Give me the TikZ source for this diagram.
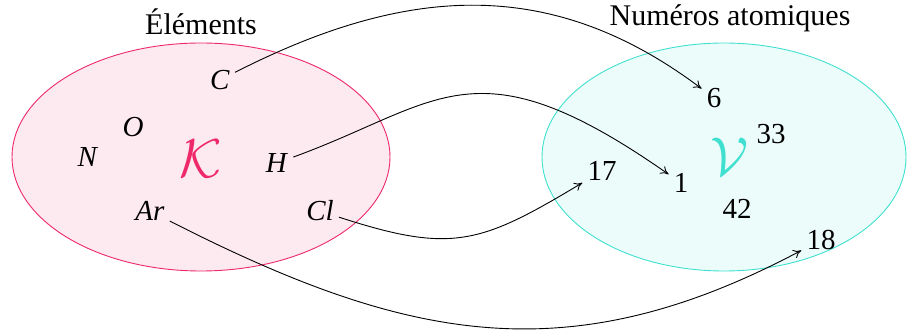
\documentclass[tikz,border=0pt]{standalone}
\usepackage{fontspec}
\setmainfont{Liberation Serif}
\usetikzlibrary{arrows.meta}
\definecolor{pk}{RGB}{238,40,105}
\definecolor{tq}{RGB}{64,224,208}
\begin{document}
\begin{tikzpicture}[x=1pt,y=1pt,
  lbl/.style={font=\fontsize{29}{34}\selectfont, inner sep=5pt},
  ttl/.style={font=\fontsize{30}{36}\selectfont, inner sep=2pt},
  big/.style={font=\fontsize{29}{34}\selectfont, inner sep=0pt},
  conn/.style={-{To[length=8pt,width=9pt]}, line width=0.9pt}]
\useasboundingbox (0,0) rectangle (907,331);
% sets
\draw[pk, line width=0.9pt, fill=pk!10] (201,174) ellipse [x radius=189, y radius=114];
\draw[tq, line width=0.9pt, fill=tq!10] (724,174) ellipse [x radius=182, y radius=114];
% titles
\node[ttl] (el) at (201,309) {Éléments};
\node[ttl] (na) at (730,313) {Numéros atomiques};
% set names
\node[big, text=pk] (K) at (201,172) {\scalebox{2.2}{$\mathcal{K}$}};
\node[big, text=tq] (V) at (730,174) {\scalebox{2.2}{$\mathcal{V}$}};
% elements
\node[lbl] (C) at (220,251) {\textit{C}};
\node[lbl] (O) at (133,204) {\textit{O}};
\node[lbl] (N) at (88,174) {\textit{N}};
\node[lbl] (H) at (277,168) {\textit{H}};
\node[lbl] (Ar) at (150,120) {\textit{Ar}};
\node[lbl] (Cl) at (320,120) {\textit{Cl}};
% numbers
\node[lbl] (n6) at (714,233) {6};
\node[lbl] (n33) at (771,197) {33};
\node[lbl] (n17) at (602,160) {17};
\node[lbl] (n1) at (681,148) {1};
\node[lbl] (n42) at (737,122) {42};
\node[lbl] (n18) at (821,91) {18};
% connectors
\draw[conn] (C) to[out=27,in=143,looseness=1.04] (n6);
\draw[conn] (H) .. controls +(20:174) and +(145:252) .. (n1);
\draw[conn] (Cl) to[out=-18,in=211,looseness=1.24] (n17);
\draw[conn] (Ar) to[out=-27,in=208,looseness=1.07] (n18);
\end{tikzpicture}
\end{document}
